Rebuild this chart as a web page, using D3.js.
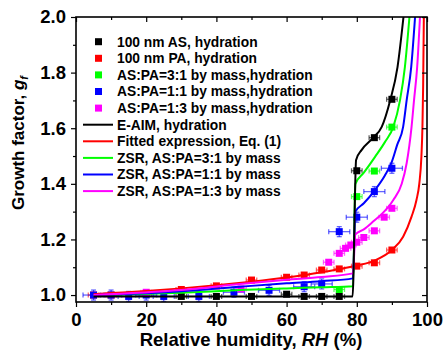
<!DOCTYPE html>
<html>
<head>
<meta charset="utf-8">
<script src="https://cdn.jsdelivr.net/npm/d3@7"></script>
<style>
    body { margin: 0; background: #fff; }
    text { font-family: "Liberation Sans", Arial, sans-serif; font-weight: bold; }
</style>
</head>
<body>
<div id="chart"></div>
<script>
// measured points: [RH, gf]
var as_points = [[30, 0.995], [40, 0.995], [50, 0.995], [60, 1.003], [65, 0.995], [70, 0.995], [75, 0.995],
    [80, 1.447], [85, 1.566], [90, 1.704]];
var pa_points = [[5, 1.0], [10, 1.0], [20, 1.005], [30, 1.02], [40, 1.033], [50, 1.054], [60, 1.064], [65, 1.072],
    [70, 1.09], [75, 1.094], [80, 1.104], [85, 1.116], [90, 1.162]];
var mix31_points = [[75, 1.02], [80, 1.354], [85, 1.446], [90, 1.604]];
var mix11_points = [[5, 1.0], [10, 1.0], [15, 0.995], [20, 1.0], [25, 0.995], [35, 0.995], [45, 1.01], [55, 1.017],
    [65, 1.03], [70, 1.04], [75, 1.228], [80, 1.28], [85, 1.372], [90, 1.456]];
var mix13_points = [[20, 1.01], [47, 1.022], [72, 1.118], [75, 1.15], [76.8, 1.168], [78.3, 1.18], [80, 1.19],
    [82, 1.207], [85, 1.231], [87.8, 1.28], [90, 1.312]];

// error bars (RH, gf) per series
var as_err = [1.5, 0.006];
var pa_err = [1.5, 0.006];
var mix31_err = [1.5, 0.008];
var mix11_err = [3, 0.018];
var mix13_err = [1.5, 0.006];

// model curves
var eaim_curve = [[5, 0.995], [30, 0.995], [60, 0.995], [78.8, 0.995], [79.8, 1.486], [81.4, 1.522], [84.7, 1.566],
    [87.1, 1.605], [89.5, 1.70], [91.6, 1.82], [93.3, 2.0]];
var fit_curve = [[5, 1.003], [10, 1.007], [20, 1.015], [30, 1.024], [40, 1.035], [50, 1.048], [60, 1.063],
    [70, 1.082], [80, 1.106], [85, 1.124], [90, 1.162], [93.2, 1.21], [95.6, 1.282], [97, 1.342], [97.8, 1.40],
    [98.4, 1.497], [98.7, 1.605], [98.9, 1.75], [99.1, 2.0]];
var zsr31_curve = [[5, 0.998], [30, 1.008], [46.7, 1.018], [60, 1.024], [70, 1.028], [78.9, 1.032], [79.6, 1.40],
    [82, 1.44], [85.2, 1.497], [88, 1.55], [90.4, 1.605], [92.3, 1.70], [93.7, 1.82], [95, 2.0]];
var zsr11_curve = [[5, 1.0], [30, 1.014], [46.7, 1.03], [60, 1.042], [70, 1.05], [78.9, 1.06], [79.6, 1.30],
    [82, 1.33], [85, 1.375], [88, 1.43], [90, 1.48], [91.5, 1.54], [93.2, 1.605], [94.2, 1.70], [95.5, 1.82],
    [96.6, 2.0]];
var zsr13_curve = [[5, 1.0], [30, 1.018], [46.7, 1.04], [60, 1.055], [70, 1.065], [78.9, 1.078], [79.6, 1.218],
    [82, 1.236], [85, 1.268], [87, 1.29], [90.4, 1.342], [92.8, 1.40], [94.2, 1.474], [95.6, 1.605], [96.3, 1.70],
    [97.2, 1.82], [98, 2.0]];

var x_ticks = [0, 20, 40, 60, 80, 100];
var x_minor = [10, 30, 50, 70, 90];
var y_ticks = [1.0, 1.2, 1.4, 1.6, 1.8, 2.0];
var y_minor = [1.1, 1.3, 1.5, 1.7, 1.9];

var point_series = [
    { label: "100 nm AS, hydration", color: "#000000", data: as_points, err: as_err },
    { label: "100 nm PA, hydration", color: "#ff0000", data: pa_points, err: pa_err },
    { label: "AS:PA=3:1 by mass,hydration", color: "#00ff00", data: mix31_points, err: mix31_err },
    { label: "AS:PA=1:1 by mass,hydration", color: "#0000ff", data: mix11_points, err: mix11_err },
    { label: "AS:PA=1:3 by mass,hydration", color: "#ff00ff", data: mix13_points, err: mix13_err }
];
var line_series = [
    { label: "E-AIM, hydration", color: "#000000", data: eaim_curve },
    { label: "Fitted expression, Eq. (1)", color: "#ff0000", data: fit_curve },
    { label: "ZSR, AS:PA=3:1 by mass", color: "#00ff00", data: zsr31_curve },
    { label: "ZSR, AS:PA=1:1 by mass", color: "#0000ff", data: zsr11_curve },
    { label: "ZSR, AS:PA=1:3 by mass", color: "#ff00ff", data: zsr13_curve }
];

var width = 443, height = 353;
var left = 76, right = 427, top_ = 17, bottom = 302;

var svg = d3.select("#chart")
    .append("svg")
    .attr("width", width)
    .attr("height", height);

var x = d3.scaleLinear().domain([0, 100]).range([left, right]);
var y = d3.scaleLinear().domain([0.975, 2.0]).range([bottom, top_]);

svg.append("clipPath")
    .attr("id", "plot_clip")
    .append("rect")
    .attr("x", left)
    .attr("y", top_)
    .attr("width", right - left)
    .attr("height", bottom - top_);

// axes: bottom / left outward ticks, top / right mirrored inward
function drawAxes() {
    var xb = svg.append("g").attr("transform", "translate(0," + bottom + ")");
    xb.call(d3.axisBottom(x).tickValues(x_ticks).tickSize(5).tickPadding(6).tickFormat(d3.format("d")));
    xb.append("g").call(d3.axisBottom(x).tickValues(x_minor).tickSize(3).tickFormat(""));

    var xt = svg.append("g").attr("transform", "translate(0," + top_ + ")");
    xt.call(d3.axisBottom(x).tickValues(x_ticks).tickSize(5).tickFormat(""));
    xt.append("g").call(d3.axisBottom(x).tickValues(x_minor).tickSize(3).tickFormat(""));

    var yl = svg.append("g").attr("transform", "translate(" + left + ",0)");
    yl.call(d3.axisLeft(y).tickValues(y_ticks).tickSize(5).tickPadding(5).tickFormat(d3.format(".1f")));
    yl.append("g").call(d3.axisLeft(y).tickValues(y_minor).tickSize(3).tickFormat(""));

    var yr = svg.append("g").attr("transform", "translate(" + right + ",0)");
    yr.call(d3.axisLeft(y).tickValues(y_ticks).tickSize(5).tickFormat(""));
    yr.append("g").call(d3.axisLeft(y).tickValues(y_minor).tickSize(3).tickFormat(""));

    svg.selectAll(".domain").remove();
    svg.selectAll(".tick line").attr("stroke", "#000").attr("stroke-width", 1.2);
    svg.selectAll(".tick text")
        .attr("fill", "#000")
        .style("font-size", "18.5px")
        .style("font-family", "'Liberation Sans', Arial, sans-serif")
        .style("font-weight", "bold");

    svg.append("rect")
        .attr("x", left)
        .attr("y", top_)
        .attr("width", right - left)
        .attr("height", bottom - top_)
        .attr("fill", "none")
        .attr("stroke", "#000")
        .attr("stroke-width", 1.6);
}

function drawPoints() {
    var plot = svg.append("g").attr("clip-path", "url(#plot_clip)");
    point_series.forEach(function (s) {
        var g = plot.append("g");
        var bars = g.selectAll("g.err")
            .data(s.data)
            .enter()
            .append("g")
            .attr("class", "err")
            .attr("stroke", s.color)
            .attr("stroke-opacity", 0.6)
            .attr("stroke-width", 1.3);
        bars.append("line")
            .attr("x1", function (d) { return x(d[0] - s.err[0]); })
            .attr("x2", function (d) { return x(d[0] + s.err[0]); })
            .attr("y1", function (d) { return y(d[1]); })
            .attr("y2", function (d) { return y(d[1]); });
        bars.append("line")
            .attr("x1", function (d) { return x(d[0]); })
            .attr("x2", function (d) { return x(d[0]); })
            .attr("y1", function (d) { return y(d[1] - s.err[1]); })
            .attr("y2", function (d) { return y(d[1] + s.err[1]); });
        bars.append("line")
            .attr("x1", function (d) { return x(d[0] - s.err[0]); })
            .attr("x2", function (d) { return x(d[0] - s.err[0]); })
            .attr("y1", function (d) { return y(d[1]) - 2.5; })
            .attr("y2", function (d) { return y(d[1]) + 2.5; });
        bars.append("line")
            .attr("x1", function (d) { return x(d[0] + s.err[0]); })
            .attr("x2", function (d) { return x(d[0] + s.err[0]); })
            .attr("y1", function (d) { return y(d[1]) - 2.5; })
            .attr("y2", function (d) { return y(d[1]) + 2.5; });
        bars.append("line")
            .attr("x1", function (d) { return x(d[0]) - 2.5; })
            .attr("x2", function (d) { return x(d[0]) + 2.5; })
            .attr("y1", function (d) { return y(d[1] - s.err[1]); })
            .attr("y2", function (d) { return y(d[1] - s.err[1]); });
        bars.append("line")
            .attr("x1", function (d) { return x(d[0]) - 2.5; })
            .attr("x2", function (d) { return x(d[0]) + 2.5; })
            .attr("y1", function (d) { return y(d[1] + s.err[1]); })
            .attr("y2", function (d) { return y(d[1] + s.err[1]); });

        g.selectAll("rect.mark")
            .data(s.data)
            .enter()
            .append("rect")
            .attr("class", "mark")
            .attr("x", function (d) { return x(d[0]) - 3.5; })
            .attr("y", function (d) { return y(d[1]) - 3.5; })
            .attr("width", 7)
            .attr("height", 7)
            .attr("fill", s.color);
    });
}

function drawLines() {
    var plot = svg.append("g").attr("clip-path", "url(#plot_clip)");
    var line = d3.line()
        .x(function (d) { return x(d[0]); })
        .y(function (d) { return y(d[1]); })
        .curve(d3.curveMonotoneX);
    // black last so it sits on top
    var order = [1, 2, 3, 4, 0];
    order.forEach(function (i) {
        var s = line_series[i];
        plot.append("path")
            .datum(s.data)
            .attr("d", line)
            .attr("fill", "none")
            .attr("stroke", s.color)
            .attr("stroke-width", 2);
    });
}

function drawLegend() {
    var row_h = 16.6;
    var lg = svg.append("g");
    point_series.forEach(function (s, i) {
        var yy = 41.7 + row_h * i;
        lg.append("rect")
            .attr("x", 95)
            .attr("y", yy - 3.5)
            .attr("width", 7)
            .attr("height", 7)
            .attr("fill", s.color);
        lg.append("text")
            .attr("x", 117)
            .attr("y", yy)
            .attr("dy", "0.35em")
            .style("font-size", "13.8px")
            .text(s.label);
    });
    line_series.forEach(function (s, i) {
        var yy = 41.7 + row_h * (i + 5);
        lg.append("line")
            .attr("x1", 83)
            .attr("x2", 113)
            .attr("y1", yy)
            .attr("y2", yy)
            .attr("stroke", s.color)
            .attr("stroke-width", 2);
        lg.append("text")
            .attr("x", 117)
            .attr("y", yy)
            .attr("dy", "0.35em")
            .style("font-size", "13.8px")
            .text(s.label);
    });
}

function drawTitles() {
    var xt = svg.append("text")
        .attr("x", 251)
        .attr("y", 346)
        .attr("text-anchor", "middle")
        .style("font-size", "18.5px");
    xt.append("tspan").text("Relative humidity, ");
    xt.append("tspan").style("font-style", "italic").text("RH");
    xt.append("tspan").text(" (%)");

    var yt = svg.append("text")
        .attr("transform", "translate(24,143) rotate(-90)")
        .attr("text-anchor", "middle")
        .style("font-size", "17px");
    yt.append("tspan").text("Growth factor, ");
    yt.append("tspan").style("font-style", "italic").text("g");
    yt.append("tspan").style("font-style", "italic").style("font-size", "11px").attr("dy", 4).text("f");
}

drawPoints();
drawLines();
drawAxes();
drawLegend();
drawTitles();
</script>
</body>
</html>
